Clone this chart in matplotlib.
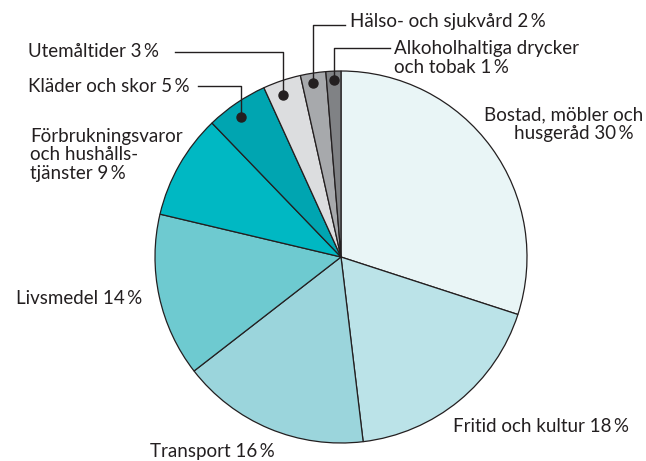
import matplotlib
matplotlib.use("Agg")
import matplotlib.pyplot as plt

plt.rcParams['font.family'] = ['Lato', 'DejaVu Sans']

# shares of household spending
categories = ["Bostad, möbler och\nhusgeråd", "Fritid och kultur", "Transport", "Livsmedel",
              "Förbrukningsvaror\noch hushålls-\ntjänster", "Kläder och skor", "Utemåltider",
              "Hälso- och sjukvård", "Alkoholhaltiga drycker\noch tobak"]
values = [30.0, 18.1, 16.4, 14.2, 9.1, 5.4, 3.3, 2.2, 1.3]
shown_pct = [30, 18, 16, 14, 9, 5, 3, 2, 1]
colors = ["#e9f5f6", "#bbe3e8", "#9bd5dc", "#6ecad0", "#00b8c3", "#00a5b1",
          "#dcdddf", "#a7a9ac", "#808285"]

H = 461
ink = "#231f20"

fig = plt.figure(figsize=(6.46, 4.61), dpi=100)
ax = fig.add_axes([0, 0, 1, 1])
ax.set_xlim(0, 646)
ax.set_ylim(0, H)
ax.set_aspect('equal')
ax.axis('off')

cx, cy, r = 341, H - 257, 186
ax.pie(values, colors=colors, startangle=90, counterclock=False,
       center=(cx, cy), radius=r,
       wedgeprops=dict(edgecolor=ink, linewidth=0.9))
ax.set_xlim(0, 646)
ax.set_ylim(0, H)

def lab(i):
    return f"{categories[i]} {shown_pct[i]}\u2009%"

fs = 13.5
ls = 1.08

# Bostad label: lines are offset from each other, place them one by one
b_lines = lab(0).split("\n")
ax.text(484, H - 115, b_lines[0], ha='left', va='center', fontsize=fs, color=ink)
ax.text(514, H - 134, b_lines[1], ha='left', va='center', fontsize=fs, color=ink)

# plain labels: (x, y from top)
plain = {
    1: (453, 427),
    2: (150, 451),
    3: (16, 298),
    4: (30, 155),
}
for i, (x, y) in plain.items():
    ax.text(x, H - y, lab(i), ha='left', va='center', fontsize=fs, color=ink,
            linespacing=ls)

# labels with leader lines: text pos, elbow line, dot
leaders = {
    5: ((28, 87), [(198, 86), (241, 86), (241, 117)]),
    6: ((28, 52), [(175, 52), (283, 52), (283, 95)]),
    7: ((350, 22), [(345, 25), (313, 25), (313, 83)]),
    8: ((394, 58), [(390, 48), (334, 48), (334, 80)]),
}
for i, ((tx, ty), pts) in leaders.items():
    ax.text(tx, H - ty, lab(i), ha='left', va='center', fontsize=fs, color=ink,
            linespacing=ls)
    xs = [p[0] for p in pts]
    ys = [H - p[1] for p in pts]
    ax.plot(xs, ys, color=ink, linewidth=1.0)
    ax.plot(xs[-1], ys[-1], 'o', color=ink, markersize=6.5)

fig.savefig("out.png", dpi=100)
